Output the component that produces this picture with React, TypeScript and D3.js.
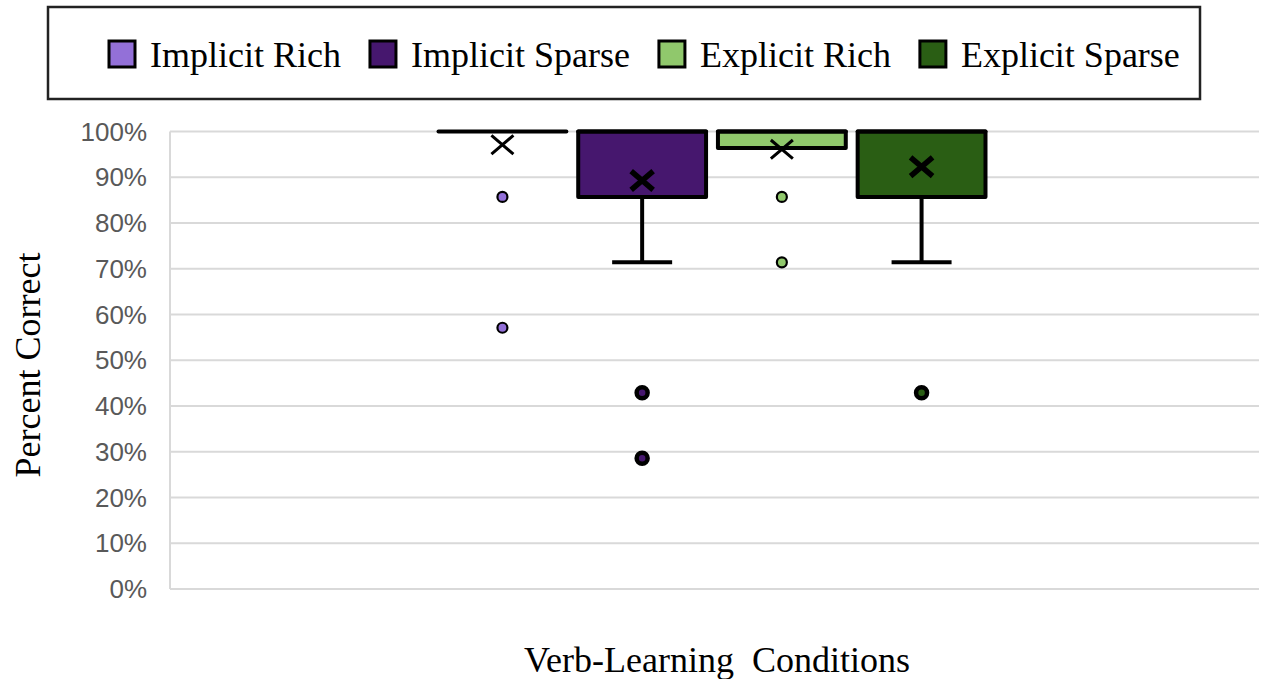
import React, { useEffect, useRef } from "react";
import * as d3 from "d3";

// Box-plot summary per verb-learning condition (proportion correct)
const seriesNames = ["Implicit Rich", "Implicit Sparse", "Explicit Rich", "Explicit Sparse"];
const seriesColors = ["#9370d8", "#46176e", "#90c86c", "#2a5e14"];
const q1Values = [1, 0.857, 0.964, 0.857];
const medianValues = [1, 1, 1, 1];
const q3Values = [1, 1, 1, 1];
const whiskerLow = [1, 0.714, 0.964, 0.714];
const whiskerHigh = [1, 1, 1, 1];
const meanValues = [0.971, 0.893, 0.961, 0.923];
const outlierValues = [[0.857, 0.571], [0.429, 0.286], [0.857, 0.714], [0.429]];
const yTicks = [0, 0.1, 0.2, 0.3, 0.4, 0.5, 0.6, 0.7, 0.8, 0.9, 1];
const categoryLabel = "Verb-Learning  Conditions";
const yLabel = "Percent Correct";

const W = 1264;
const H = 679;
const SERIF = "'Liberation Serif', 'Times New Roman', serif";
const SANS = "'Liberation Sans', Arial, sans-serif";

export default function App() {
  const ref = useRef<SVGSVGElement | null>(null);

  useEffect(() => {
    const svg = d3.select(ref.current);
    svg.selectAll("*").remove();

    const plot = { left: 170, right: 1259, top: 131.5, bottom: 589 };

    const y = d3.scaleLinear().domain([0, 1]).range([plot.bottom, plot.top]);
    const outer = d3
      .scaleBand<string>()
      .domain([categoryLabel])
      .range([plot.left - 5, plot.right])
      .paddingOuter(0.48);
    const inner = d3
      .scaleBand<string>()
      .domain(seriesNames)
      .range([0, outer.bandwidth()])
      .paddingInner(0.085)
      .paddingOuter(0.04);
    const cx = (i: number) =>
      (outer(categoryLabel) as number) + (inner(seriesNames[i]) as number) + inner.bandwidth() / 2;
    const bw = inner.bandwidth();

    // gridlines
    const grid = svg.append("g");
    grid
      .selectAll("line")
      .data(yTicks)
      .join("line")
      .attr("x1", plot.left)
      .attr("x2", plot.right)
      .attr("y1", (d) => y(d))
      .attr("y2", (d) => y(d))
      .attr("stroke", "#d9d9d9")
      .attr("stroke-width", 2);
    grid
      .append("line")
      .attr("x1", plot.left)
      .attr("x2", plot.left)
      .attr("y1", y(1))
      .attr("y2", y(0))
      .attr("stroke", "#d9d9d9")
      .attr("stroke-width", 2);

    // y tick labels
    svg
      .append("g")
      .selectAll("text")
      .data(yTicks)
      .join("text")
      .attr("x", 147)
      .attr("y", (d) => y(d) + 9)
      .attr("text-anchor", "end")
      .attr("font-family", SANS)
      .attr("font-size", 26)
      .attr("fill", "#595959")
      .text((d) => d3.format(".0%")(d));

    // boxes
    const boxes = svg.append("g");
    seriesNames.forEach((_, i) => {
      const c = cx(i);
      const g = boxes.append("g");
      const dark = i % 2 === 1;
      // whisker below
      if (whiskerLow[i] < q1Values[i]) {
        g.append("line")
          .attr("x1", c)
          .attr("x2", c)
          .attr("y1", y(q1Values[i]))
          .attr("y2", y(whiskerLow[i]))
          .attr("stroke", "#000")
          .attr("stroke-width", 4);
        g.append("line")
          .attr("x1", c - 30)
          .attr("x2", c + 30)
          .attr("y1", y(whiskerLow[i]))
          .attr("y2", y(whiskerLow[i]))
          .attr("stroke", "#000")
          .attr("stroke-width", 4);
      }
      if (whiskerHigh[i] > q3Values[i]) {
        g.append("line")
          .attr("x1", c)
          .attr("x2", c)
          .attr("y1", y(q3Values[i]))
          .attr("y2", y(whiskerHigh[i]))
          .attr("stroke", "#000")
          .attr("stroke-width", 4);
      }
      g.append("rect")
        .attr("x", c - bw / 2)
        .attr("y", y(q3Values[i]))
        .attr("width", bw)
        .attr("height", y(q1Values[i]) - y(q3Values[i]))
        .attr("fill", seriesColors[i])
        .attr("stroke", "#000")
        .attr("stroke-width", 4)
        .attr("stroke-linejoin", "round");
      g.append("line")
        .attr("x1", c - bw / 2)
        .attr("x2", c + bw / 2)
        .attr("y1", y(medianValues[i]))
        .attr("y2", y(medianValues[i]))
        .attr("stroke", "#000")
        .attr("stroke-width", 4)
        .attr("stroke-linecap", "round");
      // mean marker
      const m = y(meanValues[i]);
      const s = 11;
      g.append("path")
        .attr("d", `M${c - s},${m - s * 0.85}L${c + s},${m + s * 0.85}M${c + s},${m - s * 0.85}L${c - s},${m + s * 0.85}`)
        .attr("stroke", "#000")
        .attr("stroke-width", dark || i === 3 ? 5.5 : 3)
        .attr("fill", "none");
      // outliers
      g.selectAll("circle")
        .data(outlierValues[i])
        .join("circle")
        .attr("cx", c)
        .attr("cy", (d) => y(d))
        .attr("r", dark ? 5.5 : 5)
        .attr("fill", seriesColors[i])
        .attr("stroke", "#000")
        .attr("stroke-width", dark ? 4.5 : 2.2);
    });

    // y axis title
    svg
      .append("text")
      .attr("transform", `translate(40,${365}) rotate(-90)`)
      .attr("text-anchor", "middle")
      .attr("font-family", SERIF)
      .attr("font-size", 36)
      .attr("fill", "#000")
      .text(yLabel);

    // x axis title
    svg
      .append("text")
      .attr("x", 717)
      .attr("y", 672)
      .attr("text-anchor", "middle")
      .attr("font-family", SERIF)
      .attr("font-size", 36)
      .attr("fill", "#000")
      .style("white-space", "pre")
      .text(categoryLabel);

    // legend
    const lg = svg.append("g");
    lg.append("rect")
      .attr("x", 48)
      .attr("y", 7)
      .attr("width", 1152)
      .attr("height", 92)
      .attr("fill", "#fff")
      .attr("stroke", "#222")
      .attr("stroke-width", 2.5);
    let lx = 109;
    seriesNames.forEach((name, i) => {
      lg.append("rect")
        .attr("x", lx)
        .attr("y", 41)
        .attr("width", 26)
        .attr("height", 26)
        .attr("fill", seriesColors[i])
        .attr("stroke", "#000")
        .attr("stroke-width", 3);
      const t = lg
        .append("text")
        .attr("x", lx + 41)
        .attr("y", 67)
        .attr("font-family", SERIF)
        .attr("font-size", 36)
        .attr("fill", "#000")
        .text(name);
      const tw = (t.node() as SVGTextElement).getComputedTextLength();
      lx = lx + 41 + tw + 29;
    });
  }, []);

  return (
    <svg
      ref={ref}
      width={W}
      height={H}
      style={{ display: "block", position: "absolute", left: 0, top: 0, background: "#fff" }}
    />
  );
}
